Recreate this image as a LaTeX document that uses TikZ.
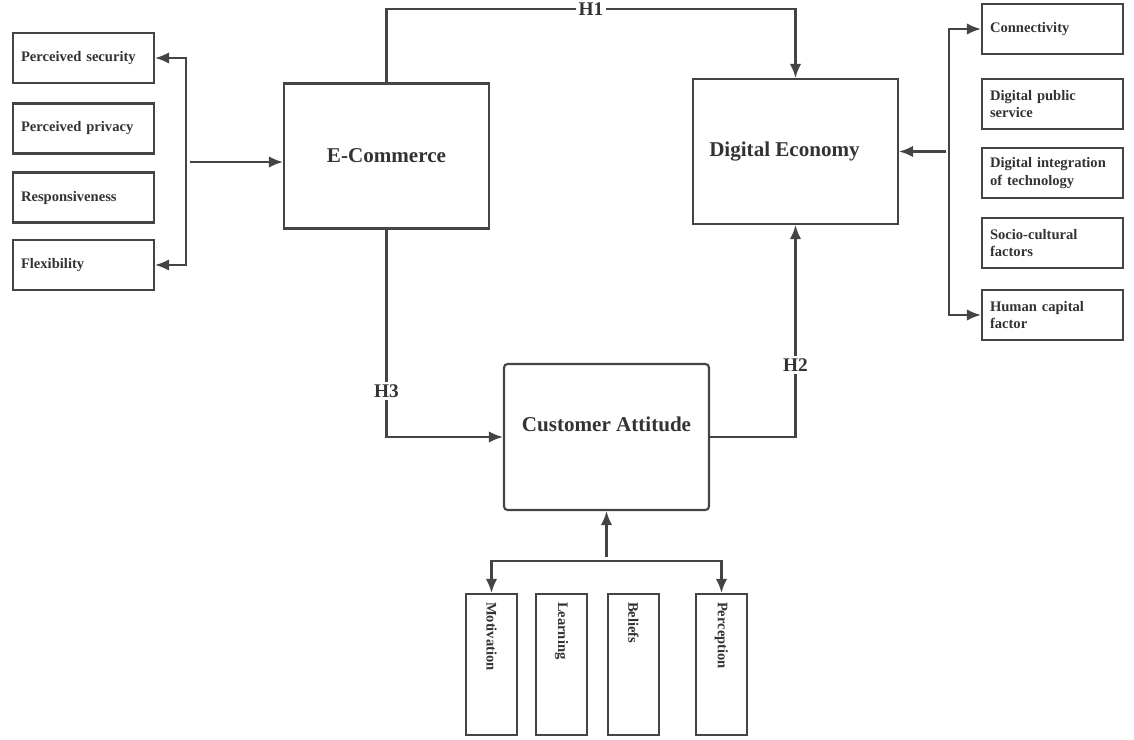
\documentclass[tikz,border=0pt]{standalone}
\usepackage{fontspec}
\setmainfont{Liberation Serif}
\usetikzlibrary{arrows.meta}
\definecolor{linegray}{HTML}{444444}
\definecolor{textgray}{HTML}{333333}
\begin{document}
\begin{tikzpicture}[x=.02cm,y=-.02cm,>={Latex[length=8pt,width=6.5pt]},
        color=linegray,line width=1.2pt,
        every node/.style={text=textgray},
        factor/.style={draw,minimum width=2.82cm,minimum height=1cm,text width=2.5cm,inner xsep=.16cm,align=left,font=\fontsize{8.3}{10.2}\selectfont\bfseries},
        dimension/.style={factor,minimum height=1.02cm,rotate=-90},
        construct/.style={draw,minimum width=4.1cm,minimum height=2.9cm,font=\fontsize{12}{14}\selectfont\bfseries},
        hyp/.style={fill=white,inner sep=1.5pt,font=\fontsize{11}{13}\selectfont\bfseries}]
        \useasboundingbox(0,0)rectangle(1134,740);
        \node[construct](ecom)at(386.5,156){E-Commerce};
        \node[construct](deco)at(795.5,151.5){Digital Economy\hspace*{.44cm}};
        \node[construct,rounded corners=2pt,minimum height=2.92cm,text depth=.52cm](catt)at(606.5,437){Customer Attitude};
        \node[factor](psec)at(83.5,58){Perceived security};
        \node[factor](ppri)at(83.5,128.5){Perceived privacy};
        \node[factor](resp)at(83.5,197.5){Responsiveness};
        \node[factor](flex)at(83.5,265){Flexibility};
        \node[factor](conn)at(1052.5,29){Connectivity};
        \node[factor](dps)at(1052.5,104){Digital public\\service};
        \node[factor](dit)at(1052.5,173){Digital integration\\of technology};
        \node[factor](scf)at(1052.5,243){Socio-cultural\\factors};
        \node[factor](hcf)at(1052.5,315){Human capital\\factor};
        \node[dimension](moti)at(491.5,664.5){Motivation};
        \node[dimension](lear)at(561.5,664.5){Learning};
        \node[dimension](beli)at(633.5,664.5){Beliefs};
        \node[dimension](perc)at(721.5,664.5){Perception};
        \coordinate(ltop)at(386.5,9);
        \coordinate(lbar)at(186,162);\coordinate(lout)at(190,162);
        \coordinate(rbar)at(949,151);\coordinate(rout)at(946,151.5);
        \coordinate(bbar)at(606.5,561);\coordinate(bout)at(606.5,557);
        \draw[->](ecom.north)--(ltop)-|node[hyp,pos=.25]{H1}(deco.north);
        \draw[->](catt.east)-|node[hyp,pos=.67]{H2}(deco.south);
        \draw[->](ecom.south)|-node[hyp,pos=.39]{H3}(catt.west);
        \draw[<->](psec.east)-|(lbar)|-(flex.east);
        \draw[->](lout)--(lout-|ecom.west);
        \draw[<->](conn.west)-|(rbar)|-(hcf.west);
        \draw[->](rout)--(deco.east);
        \draw[<->](moti.west)|-(bbar)-|(perc.west);
        \draw[->](bout)--(catt.south);
    \end{tikzpicture}
\end{document}
